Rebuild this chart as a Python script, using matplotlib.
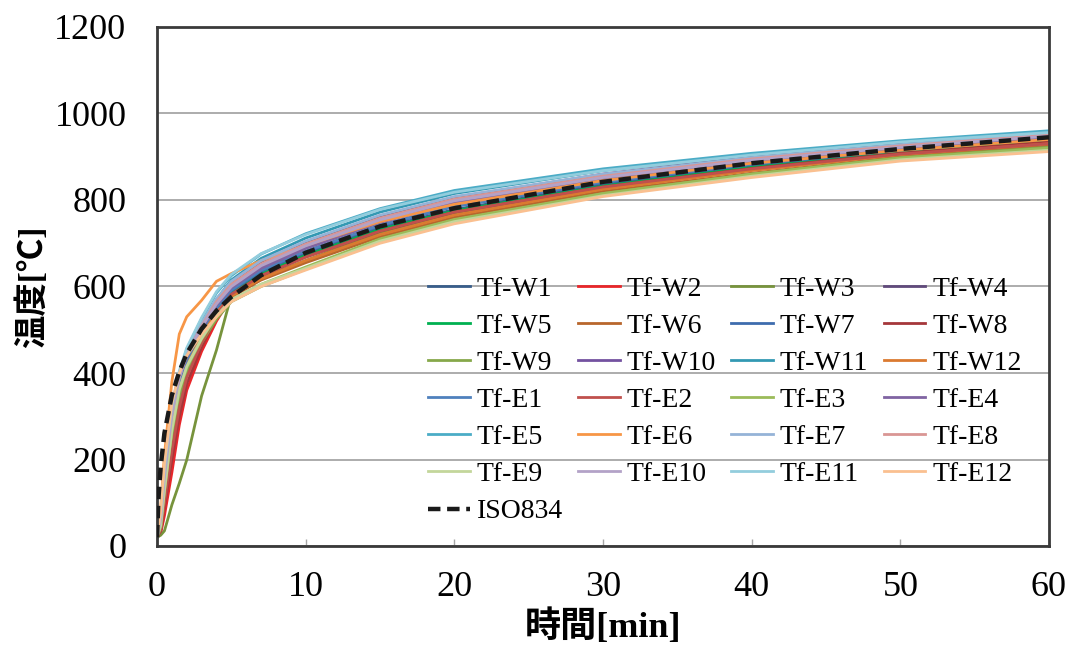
import matplotlib
matplotlib.use('Agg')
import matplotlib.pyplot as plt

plt.rcParams.update({
    'font.family': ['Liberation Serif', 'Noto Sans CJK JP'],
    'font.size': 20,
})

# time grid [min]
t = [0, 0.25, 0.5, 1, 1.5, 2, 3, 4, 5, 7, 10, 15, 20, 30, 40, 50, 60]

names = ['Tf-W1', 'Tf-W2', 'Tf-W3', 'Tf-W4', 'Tf-W5', 'Tf-W6',
         'Tf-W7', 'Tf-W8', 'Tf-W9', 'Tf-W10', 'Tf-W11', 'Tf-W12',
         'Tf-E1', 'Tf-E2', 'Tf-E3', 'Tf-E4', 'Tf-E5', 'Tf-E6',
         'Tf-E7', 'Tf-E8', 'Tf-E9', 'Tf-E10', 'Tf-E11', 'Tf-E12']

colors = ['#385D8A', '#E8262A', '#77933C', '#604A7B', '#00B050', '#B8662C',
          '#3E6CAE', '#A5373A', '#86A84A', '#7352A0', '#3399B3', '#DB7A30',
          '#4F81BD', '#C0504D', '#9BBB59', '#8064A2', '#4BACC6', '#F79646',
          '#95B3D7', '#D99694', '#C3D69B', '#B3A2C7', '#93CDDD', '#FAC090']

w1 = [20, 55, 140, 285, 375, 428, 495, 548, 588, 632, 676, 735, 778, 835, 878, 912, 938]
w2 = [20, 30, 70, 170, 280, 360, 450, 520, 575, 625, 670, 730, 772, 830, 872, 908, 932]
w3 = [20, 25, 35, 95, 145, 199, 347, 453, 580, 620, 660, 725, 770, 828, 872, 908, 935]
w4 = [20, 70, 170, 310, 395, 445, 510, 565, 605, 655, 700, 760, 805, 860, 900, 930, 955]
w5 = [20, 50, 130, 270, 365, 420, 490, 545, 585, 630, 672, 732, 775, 832, 876, 910, 936]
w6 = [20, 45, 120, 260, 355, 410, 480, 535, 575, 615, 655, 715, 760, 820, 862, 900, 925]
w7 = [20, 55, 140, 280, 372, 425, 493, 548, 590, 635, 680, 740, 785, 840, 882, 915, 942]
w8 = [20, 35, 90, 200, 300, 375, 460, 530, 580, 625, 668, 728, 772, 830, 873, 908, 934]
w9 = [20, 40, 110, 240, 340, 400, 470, 525, 565, 600, 640, 705, 752, 815, 860, 898, 922]
w10 = [20, 65, 160, 300, 390, 440, 505, 558, 598, 645, 690, 750, 795, 850, 890, 922, 948]
w11 = [20, 60, 150, 295, 385, 440, 510, 570, 615, 665, 712, 772, 815, 868, 905, 935, 958]
w12 = [20, 50, 130, 275, 370, 425, 490, 540, 578, 618, 660, 720, 765, 825, 868, 905, 930]
e1 = [20, 58, 145, 288, 378, 430, 498, 552, 592, 638, 682, 742, 786, 842, 883, 916, 943]
e2 = [20, 38, 100, 220, 320, 390, 470, 535, 582, 625, 668, 728, 772, 830, 872, 906, 930]
e3 = [20, 45, 125, 265, 360, 412, 478, 530, 568, 605, 645, 710, 755, 815, 860, 897, 920]
e4 = [20, 62, 155, 298, 388, 438, 503, 557, 597, 642, 688, 748, 792, 848, 888, 920, 946]
e5 = [20, 70, 175, 320, 400, 455, 525, 585, 625, 675, 722, 780, 822, 872, 908, 937, 960]
e6 = [20, 90, 210, 380, 490, 530, 568, 612, 630, 660, 695, 750, 790, 845, 885, 915, 940]
e7 = [20, 65, 165, 310, 395, 448, 515, 572, 612, 660, 705, 765, 808, 860, 898, 928, 952]
e8 = [20, 60, 155, 300, 390, 442, 508, 565, 605, 652, 698, 758, 802, 855, 895, 925, 950]
e9 = [20, 48, 128, 268, 362, 415, 480, 532, 570, 605, 642, 705, 750, 810, 855, 893, 915]
e10 = [20, 62, 158, 302, 390, 442, 506, 560, 600, 648, 694, 754, 798, 852, 892, 922, 948]
e11 = [20, 75, 180, 325, 405, 458, 528, 588, 628, 676, 720, 778, 818, 868, 904, 934, 956]
e12 = [20, 80, 190, 330, 400, 440, 490, 530, 565, 600, 638, 700, 745, 808, 852, 890, 912]

series = [w1, w2, w3, w4, w5, w6, w7, w8, w9, w10, w11, w12,
          e1, e2, e3, e4, e5, e6, e7, e8, e9, e10, e11, e12]

# ISO834 standard curve
t_iso = [0, 0.1, 0.25, 0.5, 1, 1.5, 2, 3, 4, 5, 7, 10, 15, 20, 30, 40, 50, 60]
iso = [20, 111, 185, 261, 349, 403, 445, 502, 544, 576, 626, 678, 739, 781, 842, 885, 918, 945]

fig = plt.figure(figsize=(10.78, 6.48), dpi=100)
ax = fig.add_axes([157 / 1078, 102 / 648, 892 / 1078, 519 / 648])

handles = []
for nm, c, y in zip(names, colors, series):
    h, = ax.plot(t, y, color=c, linewidth=2.0, label=nm, zorder=2)
    handles.append(h)
h_iso, = ax.plot(t_iso, iso, color='#1a1a1a', linestyle=(0, (2.8, 1.5)),
                 linewidth=3.2, label='ISO834', zorder=3)

ax.set_xlim(0, 60)
ax.set_ylim(0, 1200)
ax.set_xticks(range(0, 61, 10))
ax.set_yticks(range(0, 1201, 200))
ax.grid(True, axis='y', color='#a6a6a6', linewidth=1.3, zorder=1)
ax.set_axisbelow(True)
ax.tick_params(axis='both', labelsize=26, direction='in', length=5,
               color='#a6a6a6', width=1.0)
ax.tick_params(axis='y', pad=22, length=0)
ax.tick_params(axis='x', pad=18)
for sp in ax.spines.values():
    sp.set_color('#3a3a3a')
    sp.set_linewidth(2.0)

ax.set_xlabel('時間[min]', fontsize=26, fontweight='bold', labelpad=4)
ax.set_ylabel('温度[℃]', fontsize=24, fontweight='bold', labelpad=4)

# legend fills row by row in the reference; matplotlib fills columns
order = [0, 4, 8, 12, 16, 20, 24,
         1, 5, 9, 13, 17, 21,
         2, 6, 10, 14, 18, 22,
         3, 7, 11, 15, 19, 23]
all_h = handles + [h_iso]
leg_h = [all_h[i] for i in order]
ax.legend(leg_h, [h.get_label() for h in leg_h], ncol=4, loc='upper left',
          bbox_to_anchor=(0.304, 0.520), frameon=False, fontsize=20,
          handlelength=1.5, handletextpad=0.25, columnspacing=0.55,
          labelspacing=0.42, borderpad=0, borderaxespad=0)

fig.savefig('out.png', dpi=100)
